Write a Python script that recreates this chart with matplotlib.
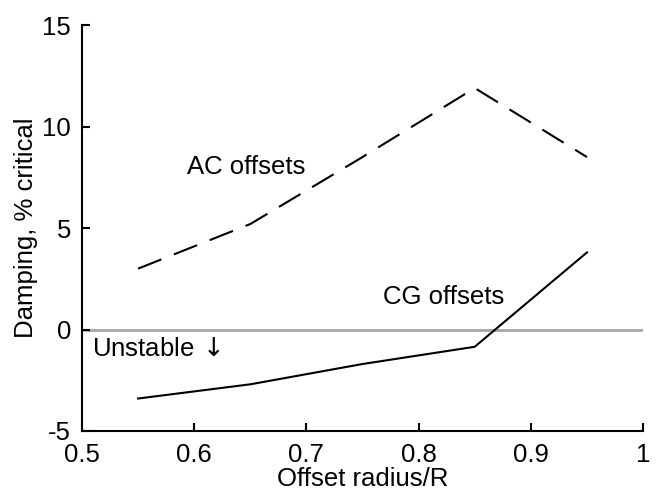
import matplotlib
matplotlib.use("Agg")
import matplotlib.pyplot as plt

plt.rcParams["font.family"] = ["Liberation Sans", "DejaVu Sans"]
plt.rcParams["axes.unicode_minus"] = False
plt.rcParams["mathtext.fontset"] = "dejavusans"

offset_radius = [0.55, 0.65, 0.75, 0.85, 0.95]
ac_offsets = [3.0, 5.2, 8.5, 11.9, 8.5]
cg_offsets = [-3.4, -2.7, -1.7, -0.85, 3.8]

x_ticks = [0.5, 0.6, 0.7, 0.8, 0.9, 1.0]
x_tick_labels = ["0.5", "0.6", "0.7", "0.8", "0.9", "1"]
y_ticks = [-5, 0, 5, 10, 15]

fs = 18.5

fig = plt.figure(figsize=(6.57, 4.93), dpi=100)
ax = fig.add_axes([0.1248, 0.1258, 0.854, 0.8232])

ax.plot([0.5, 1.0], [0, 0], color="#a6a6a6", linewidth=2.0, zorder=1)
ax.plot(offset_radius, ac_offsets, color="black", linewidth=1.5,
        linestyle=(0, (12, 6.5)), zorder=2)
ax.plot(offset_radius, cg_offsets, color="black", linewidth=1.5, zorder=2)

ax.text(0.594, 8.0, "AC offsets", fontsize=fs, va="center", ha="left")
ax.text(0.768, 1.6, "CG offsets", fontsize=fs, va="center", ha="left")
ax.text(0.509, -0.95, r"Unstable$\,\downarrow$", fontsize=fs, va="center", ha="left")

ax.set_xlim(0.5, 1.0)
ax.set_ylim(-5, 15)
ax.set_xticks(x_ticks)
ax.set_xticklabels(x_tick_labels)
ax.set_yticks(y_ticks)
ax.tick_params(direction="in", length=6, width=1.5, labelsize=fs)
ax.tick_params(axis="x", pad=9)
ax.tick_params(axis="y", pad=8)

ax.spines["top"].set_visible(False)
ax.spines["right"].set_visible(False)
ax.spines["left"].set_linewidth(1.5)
ax.spines["bottom"].set_linewidth(1.5)

ax.set_xlabel("Offset radius/R", fontsize=fs, labelpad=0)
ax.set_ylabel("Damping, % critical", fontsize=fs, labelpad=3)

fig.savefig("out.png", dpi=100)
